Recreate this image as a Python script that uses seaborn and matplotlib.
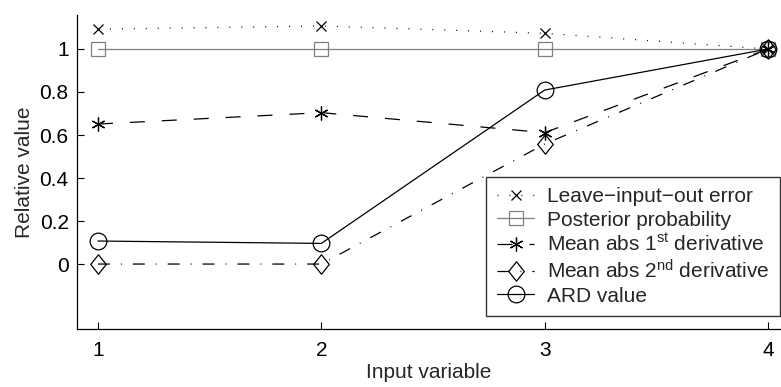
import numpy as np
import pandas as pd
import seaborn as sns
import matplotlib
matplotlib.use("Agg")
import matplotlib.pyplot as plt
from matplotlib.path import Path

sns.set_theme(style="white")
plt.rcParams["font.family"] = ["Liberation Sans", "DejaVu Sans"]
plt.rcParams["mathtext.fontset"] = "custom"
plt.rcParams["mathtext.rm"] = "Liberation Sans"
plt.rcParams["mathtext.it"] = "Liberation Sans"
plt.rcParams["lines.scale_dashes"] = False

inputs = [1, 2, 3, 4]
leave_input_out = [1.092, 1.107, 1.073, 1.0]
posterior_prob = [1.0, 1.0, 1.0, 1.0]
mean_abs_d1 = [0.651, 0.704, 0.611, 1.0]
mean_abs_d2 = [0.0, 0.0, 0.558, 1.0]
ard_value = [0.107, 0.096, 0.809, 1.0]

labels = [
    "Leave\u2212input\u2212out error",
    "Posterior probability",
    r"Mean abs 1$^{\mathrm{st}}$ derivative",
    r"Mean abs 2$^{\mathrm{nd}}$ derivative",
    "ARD value",
]
x_ticks = [1, 2, 3, 4]
y_ticks = [0, 0.2, 0.4, 0.6, 0.8, 1]
y_ticklabels = ["0", "0.2", "0.4", "0.6", "0.8", "1"]

asterisk = (6, 2, 0)
diamond = Path([(0, 1), (0.8, 0), (0, -1), (-0.8, 0), (0, 1)],
               [Path.MOVETO, Path.LINETO, Path.LINETO, Path.LINETO, Path.CLOSEPOLY])

styles = [
    dict(color="black", ls=(0, (0.7, 7.9)), marker="x", ms=7.5, mew=0.9),
    dict(color="#808080", ls="-", marker="s", ms=9.5, mew=0.9),
    dict(color="black", ls=(0, (10.8, 12.2)), marker=asterisk, ms=10, mew=0.9),
    dict(color="black", ls=(0, (8.6, 7.9, 0.7, 7.9)), marker=diamond, ms=14, mew=0.9),
    dict(color="black", ls="-", marker="o", ms=12, mew=0.9),
]
series = [leave_input_out, posterior_prob, mean_abs_d1, mean_abs_d2, ard_value]

FS = 15
W, H = 781, 387
fig = plt.figure(figsize=(W / 100, H / 100), dpi=100)
ax = fig.add_axes([77 / W, (H - 329) / H, (W - 77) / W, (329 - 15) / H])

for vals, lab, st in zip(series, labels, styles):
    df = pd.DataFrame({"x": inputs, "y": vals})
    sns.lineplot(data=df, x="x", y="y", ax=ax, label=lab, color=st["color"],
                 linestyle=st["ls"], marker=st["marker"], markersize=st["ms"],
                 markeredgewidth=st["mew"], markerfacecolor="none",
                 markeredgecolor=st["color"], linewidth=0.9)

ax.set_xlim(0.906, 4.058)
ax.set_ylim(-0.302, 1.158)
ax.set_xticks(x_ticks)
ax.set_xticklabels([str(t) for t in x_ticks])
ax.set_yticks(y_ticks)
ax.set_yticklabels(y_ticklabels)
ax.tick_params(direction="in", length=5, width=0.8, colors="black",
               labelsize=FS, left=True, bottom=True)
ax.tick_params(axis="x", pad=9)
ax.tick_params(axis="y", pad=6)
for side in ["top", "right"]:
    ax.spines[side].set_visible(False)
for side in ["left", "bottom"]:
    ax.spines[side].set_color("black")
    ax.spines[side].set_linewidth(0.9)
ax.set_facecolor("white")
ax.grid(False)

ax.set_xlabel("Input variable", fontsize=FS, labelpad=2)
ax.set_ylabel("Relative value", fontsize=FS, labelpad=4)

leg = ax.legend(loc="lower right", bbox_to_anchor=(0.9985, 0.041), fontsize=FS,
                frameon=True, fancybox=False, edgecolor="black",
                handlelength=1.8, handletextpad=0.62, labelspacing=0.2,
                borderpad=0.5, borderaxespad=0.0)
leg.get_frame().set_linewidth(1.0)

fig.savefig("out.png", dpi=100, facecolor="white")
